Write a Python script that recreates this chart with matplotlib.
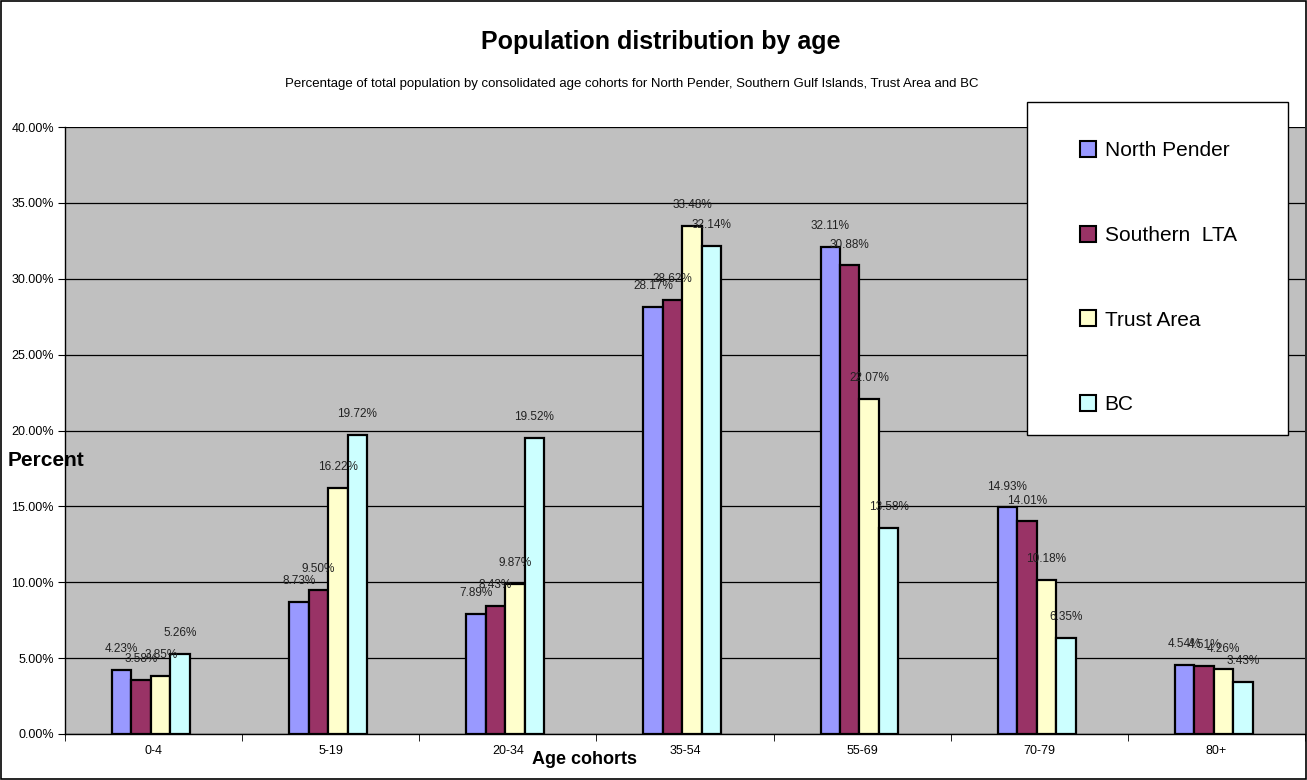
import matplotlib
matplotlib.use("Agg")
import matplotlib.pyplot as plt
from matplotlib.patches import Rectangle, Patch
import numpy as np

cohorts = ["0-4", "5-19", "20-34", "35-54", "55-69", "70-79", "80+"]
north_pender = [4.23, 8.73, 7.89, 28.17, 32.11, 14.93, 4.54]
southern_lta = [3.58, 9.50, 8.43, 28.62, 30.88, 14.01, 4.51]
trust_area = [3.85, 16.22, 9.87, 33.48, 22.07, 10.18, 4.26]
bc = [5.26, 19.72, 19.52, 32.14, 13.58, 6.35, 3.43]

series_names = ["North Pender", "Southern  LTA", "Trust Area", "BC"]
series_values = [north_pender, southern_lta, trust_area, bc]
series_colors = ["#9999FF", "#993366", "#FFFFCC", "#CCFFFF"]
y_ticks = [0, 5, 10, 15, 20, 25, 30, 35, 40]

plt.rcParams["font.family"] = ["Liberation Sans", "DejaVu Sans"]

W, H = 1307, 780
fig = plt.figure(figsize=(W / 100, H / 100), dpi=100)
ax = fig.add_axes([65 / W, 1 - 734 / H, 1240 / W, (734 - 127) / H])
ax.set_facecolor("#C0C0C0")

n = len(cohorts)
centers = np.arange(n) + 0.5
bar_w = 0.11
offsets = (np.arange(4) - 1.5) * bar_w - 0.015

for vals, name, col, off in zip(series_values, series_names, series_colors, offsets):
    bars = ax.bar(centers + off, vals, width=bar_w, color=col, edgecolor="black",
                  linewidth=1.6, label=name, zorder=3)
    for b, v in zip(bars, vals):
        ax.annotate(f"{v:.2f}%", (b.get_x() + b.get_width() / 2, v),
                    xytext=(0, 15), textcoords="offset points", ha="center",
                    va="center", fontsize=8.5, color="#222222", zorder=4)

ax.set_xlim(0, n)
ax.set_ylim(0, 40)
ax.set_yticks(y_ticks)
ax.set_yticklabels([f"{t:.2f}%" for t in y_ticks], fontsize=9)
ax.yaxis.grid(True, color="black", linewidth=0.9, zorder=0)
ax.set_axisbelow(True)
ax.set_xticks(centers)
ax.set_xticklabels(cohorts, fontsize=9)
ax.set_xticks(np.arange(n + 1), minor=True)
ax.tick_params(axis="x", which="major", length=0, pad=8)
ax.tick_params(axis="x", which="minor", length=5, direction="out")
ax.tick_params(axis="y", length=5, direction="out", pad=3)
for side in ["top", "right"]:
    ax.spines[side].set_visible(False)
ax.spines["left"].set_linewidth(1.0)
ax.spines["bottom"].set_linewidth(1.0)

fig.text(661 / W, 1 - 42 / H, "Population distribution by age", ha="center",
         va="center", fontsize=18, fontweight="bold")
fig.text(632 / W, 1 - 84 / H,
         "Percentage of total population by consolidated age cohorts for North Pender, "
         "Southern Gulf Islands, Trust Area and BC",
         ha="center", va="center", fontsize=9.5)
fig.text(8 / W, 1 - 460 / H, "Percent", ha="left", va="center",
         fontsize=15, fontweight="bold")
fig.text(584 / W, 1 - 759 / H, "Age cohorts", ha="center", va="center",
         fontsize=13, fontweight="bold")

# legend box
fig.patches.append(Rectangle((1027 / W, 1 - 435 / H), 261 / W, 333 / H,
                             transform=fig.transFigure, facecolor="white",
                             edgecolor="black", linewidth=1.0, zorder=5))
handles = [Patch(facecolor=c, edgecolor="black", linewidth=1.5) for c in series_colors]
leg = fig.legend(handles, series_names, loc="upper left",
                 bbox_to_anchor=(1061 / W, 1 - 122 / H), frameon=False,
                 fontsize=15, handlelength=0.8, handleheight=0.8,
                 handletextpad=0.4, labelspacing=3.15)
leg.set_zorder(6)

# outer border
fig.patches.append(Rectangle((0.0005, 0.001), 0.999, 0.998, transform=fig.transFigure,
                             facecolor="none", edgecolor="black", linewidth=1.2))

fig.savefig("out.png", dpi=100)
